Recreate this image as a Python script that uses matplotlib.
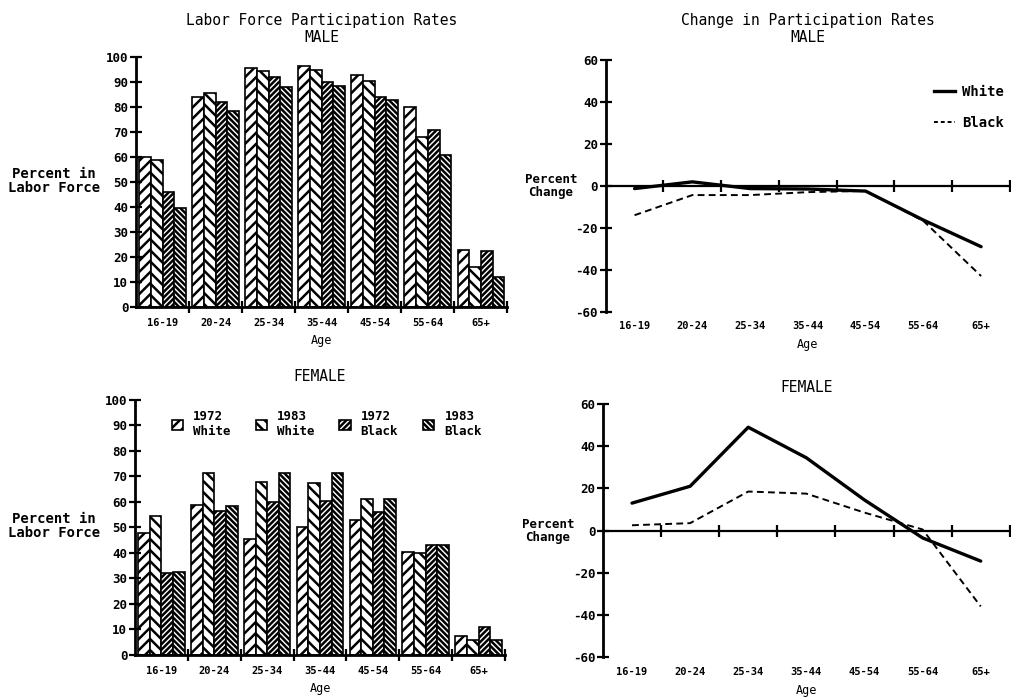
import numpy as np
import matplotlib
matplotlib.use("Agg")
import matplotlib.pyplot as plt
from matplotlib.patches import Patch
from matplotlib.lines import Line2D

ages = ["16-19", "20-24", "25-34", "35-44", "45-54", "55-64", "65+"]
series_labels = ["1972\nWhite", "1983\nWhite", "1972\nBlack", "1983\nBlack"]

# participation rates (percent in labor force)
male_white_1972 = [60, 84, 95.5, 96.5, 93, 80, 23]
male_white_1983 = [59, 85.5, 94.5, 95, 90.5, 68, 16]
male_black_1972 = [46, 82, 92, 90, 84, 71, 22.5]
male_black_1983 = [39.5, 78.5, 88, 88.5, 83, 61, 12]

female_white_1972 = [48, 59, 45.5, 50, 53, 40.5, 7.5]
female_white_1983 = [54.5, 71.5, 68, 67.5, 61, 40, 6]
female_black_1972 = [32, 56.5, 60, 60.5, 56, 43, 11]
female_black_1983 = [32.5, 58.5, 71.5, 71.5, 61, 43, 6]

# percent change 1972 -> 1983
male_change_white = [-1.3, 1.9, -1.3, -1.5, -2.5, -16.3, -29]
male_change_black = [-14, -4.4, -4.4, -3, -2.4, -16.7, -43]
female_change_white = [13, 21, 49, 34.5, 14.5, -3.5, -14.5]
female_change_black = [2.5, 3.5, 18.5, 17.5, 8.5, 0.5, -36]

plt.rcParams["font.family"] = "DejaVu Sans Mono"
plt.rcParams["font.weight"] = "bold"
plt.rcParams["hatch.linewidth"] = 1.8
plt.rcParams["axes.unicode_minus"] = False

hatches = ["///", "\\\\\\", "//////", "\\\\\\\\\\\\"]

fig = plt.figure(figsize=(10.12, 7.0), dpi=100)

ax_m = fig.add_axes([0.1344, 0.5614, 0.367, 0.357])
ax_f = fig.add_axes([0.1334, 0.0643, 0.3656, 0.3643])
ax_cm = fig.add_axes([0.5985, 0.5547, 0.3995, 0.3596])
ax_cf = fig.add_axes([0.5958, 0.0614, 0.402, 0.3614])

centers = np.arange(len(ages)) + 0.5


def style_axes(ax):
    ax.spines["top"].set_visible(False)
    ax.spines["right"].set_visible(False)
    ax.spines["left"].set_linewidth(2)
    ax.spines["bottom"].set_linewidth(2)
    ax.set_xlim(0, 7)
    ax.tick_params(axis="both", which="major", direction="inout", length=9, width=1.6)
    ax.tick_params(axis="y", labelsize=9, pad=1)


def bar_panel(ax, series, title, pad):
    w = 0.22
    for k, vals in enumerate(series):
        ax.bar(centers + (k - 1.5) * w, vals, w, facecolor="white",
               edgecolor="black", hatch=hatches[k], linewidth=1.2)
    style_axes(ax)
    ax.set_ylim(0, 100)
    ax.set_yticks(np.arange(0, 101, 10))
    ax.set_xticks(np.arange(1, 8))
    ax.set_xticklabels([])
    ax.set_xticks(centers, ages, minor=True)
    ax.tick_params(axis="x", which="minor", length=0, labelsize=7.5, pad=8)
    ax.set_xlabel("Age", fontsize=8.5, labelpad=4)
    ax.set_title(title, fontsize=10.5, linespacing=1.15, pad=pad)
    ax.text(-0.22, 0.505, "Percent in\nLabor Force", transform=ax.transAxes,
            ha="center", va="center", fontsize=10, linespacing=1.0)


def line_panel(ax, white, black, title, pad):
    ax.plot(centers, white, color="black", lw=2.4, solid_capstyle="round")
    ax.plot(centers, black, color="black", lw=1.4, ls=(0, (3.5, 2.2)))
    style_axes(ax)
    ax.set_ylim(-60, 60)
    ax.set_yticks(np.arange(-60, 61, 20))
    ax.spines["bottom"].set_position(("data", 0))
    ax.spines["bottom"].set_linewidth(1.6)
    ax.set_xticks(np.arange(1, 8))
    ax.tick_params(axis="x", labelbottom=False)
    sec = ax.secondary_xaxis("bottom")
    sec.spines["bottom"].set_visible(False)
    sec.set_xticks(centers, ages)
    sec.tick_params(length=0, labelsize=7.5, pad=7)
    sec.set_xlabel("Age", fontsize=8.5, labelpad=5)
    ax.set_title(title, fontsize=10.5, linespacing=1.15, pad=pad)
    ax.text(-0.135, 0.5, "Percent\nChange", transform=ax.transAxes,
            ha="center", va="center", fontsize=9, linespacing=1.0)


bar_panel(ax_m, [male_white_1972, male_white_1983, male_black_1972, male_black_1983],
          "Labor Force Participation Rates\nMALE", 11)
bar_panel(ax_f, [female_white_1972, female_white_1983, female_black_1972, female_black_1983],
          "FEMALE", 14)
line_panel(ax_cm, male_change_white, male_change_black,
           "Change in Participation Rates\nMALE", 13)
line_panel(ax_cf, female_change_white, female_change_black, "FEMALE", 9)

handles = [Patch(facecolor="white", edgecolor="black", hatch=h, linewidth=1.2) for h in hatches]
ax_f.legend(handles, series_labels, ncol=4, loc="upper left", bbox_to_anchor=(0.1, 0.96),
            frameon=False, fontsize=9, handlelength=0.9, handleheight=0.9,
            handletextpad=0.8, columnspacing=2.0, borderpad=0, borderaxespad=0,
            labelspacing=0.2)

line_handles = [Line2D([], [], color="black", lw=2.4),
                Line2D([], [], color="black", lw=1.4, ls=(0, (2, 1.5)))]
ax_cm.legend(line_handles, ["White", "Black"], loc="upper right",
             bbox_to_anchor=(0.985, 0.9), frameon=False, fontsize=10,
             handlelength=1.5, handletextpad=0.5, labelspacing=1.2,
             borderpad=0, borderaxespad=0)

fig.savefig("out.png", dpi=100)
